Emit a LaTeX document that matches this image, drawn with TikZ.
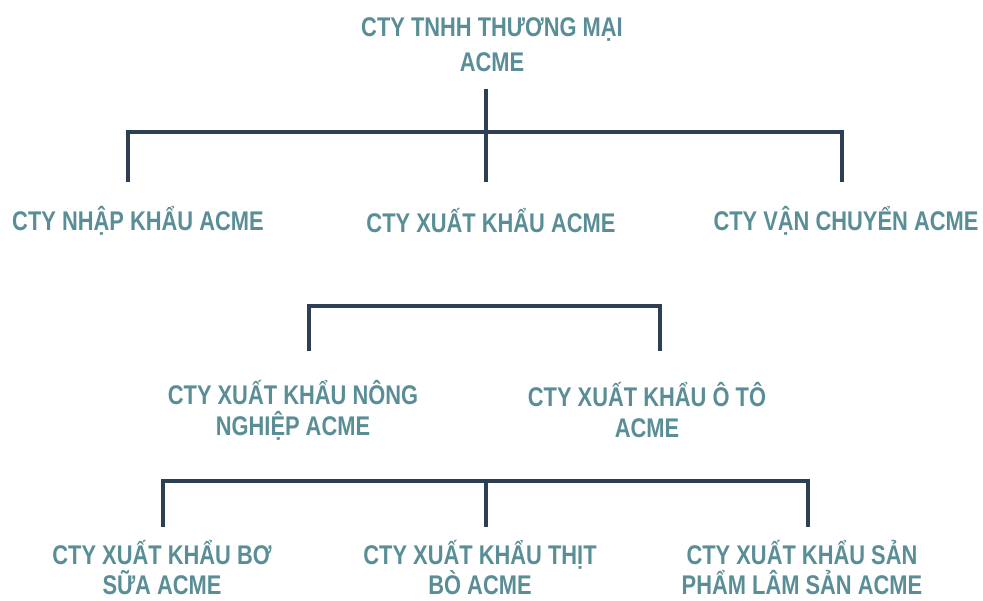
\documentclass[tikz,border=0pt]{standalone}
\usepackage{fontspec}
\setmainfont{Liberation Sans}[FakeStretch=0.81]
\definecolor{txt}{HTML}{5A8E97}
\definecolor{ln}{HTML}{2D3F52}
\begin{document}
\begin{tikzpicture}[x=1pt,y=-1pt,
  lbl/.style={text=txt,font=\bfseries\fontsize{27}{#1}\selectfont,align=center,inner sep=0pt,anchor=center},
  lbl/.default=33,
  conn/.style={draw=ln,line width=3.4pt,line join=miter}]
\useasboundingbox[fill=white] (0,0) rectangle (983,601);
% nodes
\node[lbl=35] (top) at (492,45) {CTY TNHH THƯƠNG MẠI\\ACME};
\node[lbl] (nk) at (138,221) {CTY NHẬP KHẨU ACME};
\node[lbl] (xk) at (491,221) {CTY XUẤT KHẨU ACME};
\node[lbl] (vc) at (846,221) {CTY VẬN CHUYỂN ACME};
\node[lbl=31] (nn) at (293,410) {CTY XUẤT KHẨU NÔNG\\NGHIỆP ACME};
\node[lbl=31] (ot) at (647,410) {CTY XUẤT KHẨU Ô TÔ\\ACME};
\node[lbl=30] (bs) at (162,568) {CTY XUẤT KHẨU BƠ\\SỮA ACME};
\node[lbl=30] (tb) at (480,568) {CTY XUẤT KHẨU THỊT\\BÒ ACME};
\node[lbl=30] (ls) at (802,568) {CTY XUẤT KHẨU SẢN\\PHẨM LÂM SẢN ACME};
% connector points
\coordinate (topc) at (486,89);
\coordinate (b1) at (486,132);
\coordinate (nkc) at (128,182);
\coordinate (xkc) at (486,182);
\coordinate (vcc) at (842,182);
\coordinate (nnc) at (309,351);
\coordinate (otc) at (660,351);
\coordinate (b2) at (309,306);
\coordinate (bsc) at (163,527);
\coordinate (tbc) at (486,527);
\coordinate (lsc) at (808,527);
\coordinate (b3) at (486,481);
% connectors
\draw[conn] (topc) -- (xkc);
\draw[conn] (nkc) |- (b1) -| (vcc);
\draw[conn] (nnc) |- (b2) -| (otc);
\draw[conn] (bsc) |- (b3) -| (lsc);
\draw[conn] (b3) -- (tbc);
\end{tikzpicture}
\end{document}
